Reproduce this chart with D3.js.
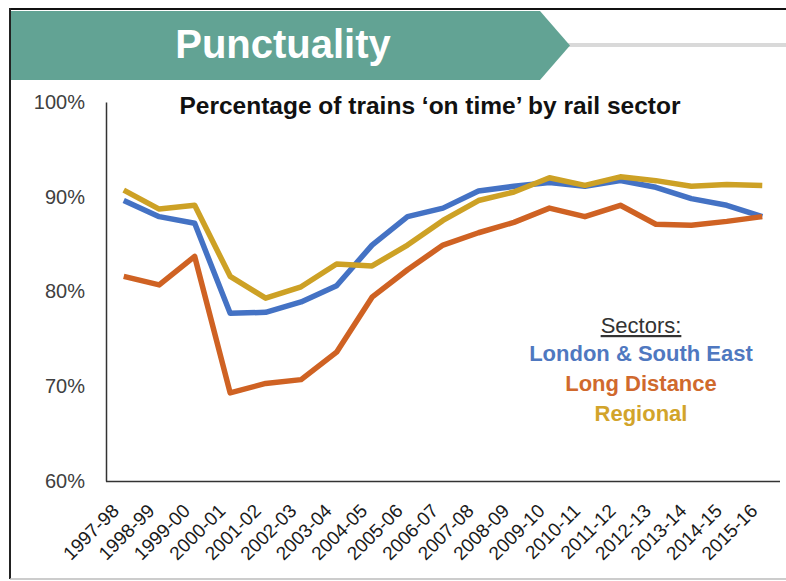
<!DOCTYPE html>
<html>
<head>
<meta charset="utf-8">
<script src="https://cdn.jsdelivr.net/npm/d3@7/dist/d3.min.js"></script>
<style>
  html, body { margin: 0; padding: 0; background: #fff; }
  svg { display: block; font-family: "Liberation Sans", Arial, sans-serif; }
</style>
</head>
<body>
<svg id="chart" width="786" height="581"></svg>
<script>
// Financial years on the x axis
const years = ["1997-98","1998-99","1999-00","2000-01","2001-02","2002-03","2003-04",
  "2004-05","2005-06","2006-07","2007-08","2008-09","2009-10","2010-11","2011-12",
  "2012-13","2013-14","2014-15","2015-16"];

// Percentage of trains on time, per sector
const londonSouthEast = [89.6, 87.9, 87.2, 77.7, 77.8, 78.9, 80.6, 84.9, 87.9, 88.8,
  90.6, 91.1, 91.5, 91.1, 91.7, 91.0, 89.8, 89.1, 87.9];
const longDistance = [81.6, 80.7, 83.7, 69.3, 70.3, 70.7, 73.6, 79.4, 82.3, 84.9,
  86.2, 87.3, 88.8, 87.9, 89.1, 87.1, 87.0, 87.4, 87.9];
const regional = [90.7, 88.7, 89.1, 81.6, 79.3, 80.5, 82.9, 82.7, 84.9, 87.5,
  89.6, 90.5, 92.0, 91.2, 92.1, 91.7, 91.1, 91.3, 91.2];

const yTicks = [60, 70, 80, 90, 100];
const sectorNames = ["London & South East", "Long Distance", "Regional"];

const series = [
  { name: sectorNames[0], values: londonSouthEast, color: "#4472c4", text: "#4f78c0" },
  { name: sectorNames[1], values: longDistance, color: "#cf6223", text: "#d0692d" },
  { name: sectorNames[2], values: regional, color: "#cda125", text: "#d2a42b" }
];

const svg = d3.select("#chart");

// Outer frame
svg.append("line").attr("x1", 10).attr("x2", 786).attr("y1", 9).attr("y2", 9)
  .attr("stroke", "#111").attr("stroke-width", 2);
svg.append("line").attr("x1", 10).attr("x2", 10).attr("y1", 8).attr("y2", 579)
  .attr("stroke", "#222").attr("stroke-width", 2);
svg.append("line").attr("x1", 10).attr("x2", 786).attr("y1", 579).attr("y2", 579)
  .attr("stroke", "#bbb").attr("stroke-width", 1.5);

// Header banner with arrow tip and rule
svg.append("line").attr("x1", 568).attr("x2", 786).attr("y1", 45).attr("y2", 45)
  .attr("stroke", "#d9d9d9").attr("stroke-width", 4);
svg.append("polygon")
  .attr("points", "11,11 540,11 570,45.5 540,80 11,80")
  .attr("fill", "#62a394");
svg.append("text").attr("x", 283).attr("y", 58).attr("text-anchor", "middle")
  .attr("fill", "#fff").attr("font-weight", "bold").attr("font-size", 40)
  .text("Punctuality");

// Plot area
const margin = { left: 106, right: 780, top: 102, bottom: 481 };
const x = d3.scalePoint().domain(years).range([margin.left, margin.right]).padding(0.5);
const y = d3.scaleLinear().domain([60, 100]).range([margin.bottom, margin.top]);

// Axes
const yAxis = svg.append("g").attr("transform", `translate(${margin.left},0)`)
  .call(d3.axisLeft(y).tickValues(yTicks).tickSize(0).tickPadding(21)
    .tickFormat(d => d + "%"));
yAxis.select(".domain").attr("stroke", "#333").attr("stroke-width", 1.5);
yAxis.selectAll("text").attr("font-size", 20).attr("fill", "#404040")
  .attr("font-family", "Liberation Sans, Arial, sans-serif");

const xAxis = svg.append("g").attr("transform", `translate(0,${margin.bottom})`)
  .call(d3.axisBottom(x).tickSize(0));
xAxis.select(".domain").attr("stroke", "#333").attr("stroke-width", 1.5)
  .attr("d", `M${margin.left},0.5H${margin.right}`);
xAxis.selectAll("text")
  .attr("font-size", 19).attr("fill", "#1a1a1a")
  .attr("font-family", "Liberation Sans, Arial, sans-serif")
  .attr("text-anchor", "end")
  .attr("dy", 0)
  .attr("transform", "translate(-4,31) rotate(-45)")
  .attr("y", 0).attr("x", 0);

// Chart title
svg.append("text").attr("x", 430).attr("y", 114).attr("text-anchor", "middle")
  .attr("font-weight", "bold").attr("font-size", 24.5).attr("fill", "#111")
  .text("Percentage of trains \u2018on time\u2019 by rail sector");

// Sector lines
const line = d3.line().x((d, i) => x(years[i])).y(d => y(d));
svg.append("g").selectAll("path").data(series).join("path")
  .attr("d", d => line(d.values))
  .attr("fill", "none")
  .attr("stroke", d => d.color)
  .attr("stroke-width", 5.5)
  .attr("stroke-linejoin", "round");

// Legend
svg.append("text").attr("x", 641).attr("y", 333).attr("text-anchor", "middle")
  .attr("font-size", 22).attr("fill", "#333")
  .attr("text-decoration", "underline")
  .text("Sectors:");
svg.append("g").selectAll("text").data(series).join("text")
  .attr("x", 641)
  .attr("y", (d, i) => 361 + i * 30)
  .attr("text-anchor", "middle")
  .attr("font-weight", "bold").attr("font-size", 22)
  .attr("fill", d => d.text)
  .text(d => d.name);
</script>
</body>
</html>
